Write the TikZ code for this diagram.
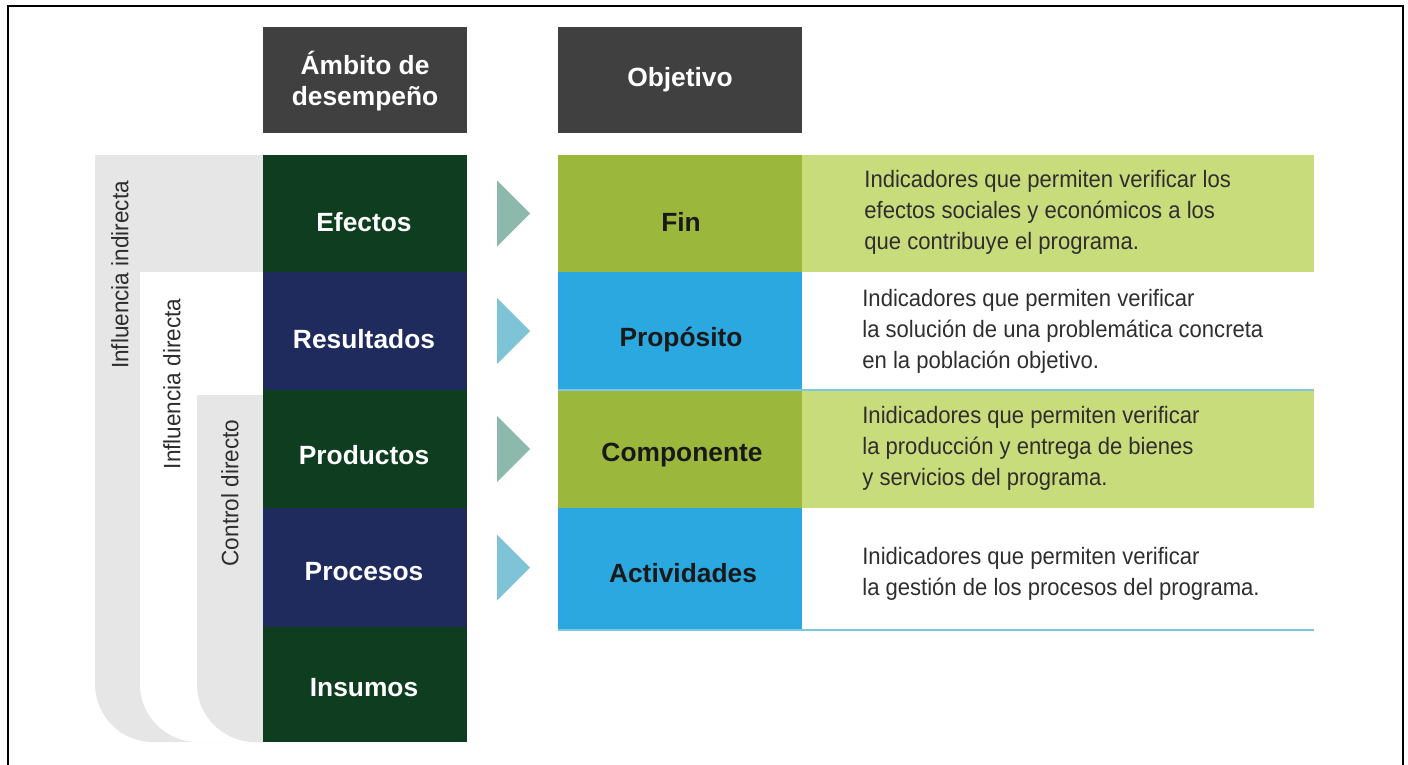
\documentclass[tikz,border=0pt]{standalone}
\usepackage{fontspec}
\setmainfont{Liberation Sans}
\newfontfamily\descfont[FakeStretch=0.93]{Liberation Sans}
\newfontfamily\rotfont[FakeStretch=0.95]{Liberation Sans}
\definecolor{hdrgray}{HTML}{404040}
\definecolor{dkgreen}{HTML}{0F3D1F}
\definecolor{navy}{HTML}{1F2B5C}
\definecolor{olive}{HTML}{9CB83C}
\definecolor{litegreen}{HTML}{C9DC7C}
\definecolor{skyblue}{HTML}{2BA8E0}
\definecolor{bggray}{HTML}{E6E6E6}
\definecolor{triA}{HTML}{8DB8AC}
\definecolor{triB}{HTML}{7FC3D6}
\definecolor{lineblue}{HTML}{7CC8E0}
\definecolor{desctext}{HTML}{2E2E2E}
\begin{document}
\begin{tikzpicture}[x=0.02cm,y=-0.02cm,
  hdrlbl/.style={text=white,font=\fontsize{15pt}{18pt}\selectfont\bfseries,align=center,inner sep=0},
  rowlbl/.style={text=white,font=\fontsize{15pt}{18pt}\selectfont\bfseries,inner sep=0},
  objlbl/.style={text=black!90,font=\fontsize{15pt}{18pt}\selectfont\bfseries,inner sep=0},
  desc/.style={text=desctext,font=\descfont\fontsize{13.5pt}{17.6pt}\selectfont,align=left,anchor=west,inner sep=0},
  rotlbl/.style={text=desctext,font=\rotfont\fontsize{13.5pt}{16pt}\selectfont,rotate=90,inner sep=0},
  bracket/.style={line width=0pt}]
\useasboundingbox (0,0) rectangle (1408,764);
% frame
\draw[black,line width=1.1pt] (8,780) -- (8,6) -- (1403,6) -- (1403,780);
% brackets
\fill[bggray,bracket] (263,155) -- (95,155) -- (95,684) arc[start angle=180,end angle=270,radius=1.16cm] -- (263,742) -- cycle;
\fill[white,bracket] (263,272) -- (140,272) -- (140,684) arc[start angle=180,end angle=270,radius=1.16cm] -- (263,742) -- cycle;
\fill[bggray,bracket] (263,395) -- (197,395) -- (197,684) arc[start angle=180,end angle=270,radius=1.16cm] -- (263,742) -- cycle;
\node[rotlbl] (indir) at (120,275) {Influencia indirecta};
\node[rotlbl] (dir) at (172,384) {Influencia directa};
\node[rotlbl] (ctrl) at (230,493) {Control directo};
% headers
\fill[hdrgray] (263,27) rectangle (467,133);
\fill[hdrgray] (558,27) rectangle (802,133);
\node[hdrlbl] (hamb) at (365,81) {Ámbito de\\desempeño};
\node[hdrlbl] (hobj) at (680,80) {Objetivo};
% left column
\fill[dkgreen] (263,155) rectangle (467,272);
\fill[navy] (263,272) rectangle (467,390);
\fill[dkgreen] (263,390) rectangle (467,508);
\fill[navy] (263,508) rectangle (467,627);
\fill[dkgreen] (263,627) rectangle (467,742);
\node[rowlbl] (efectos) at (364,222) {Efectos};
\node[rowlbl] (resultados) at (364,339) {Resultados};
\node[rowlbl] (productos) at (364,455) {Productos};
\node[rowlbl] (procesos) at (364,572) {Procesos};
\node[rowlbl] (insumos) at (364,688) {Insumos};
% triangles
\fill[triA] (497,180.5) -- (530,213.5) -- (497,246.5) -- cycle;
\fill[triB] (497,298) -- (530,331) -- (497,364) -- cycle;
\fill[triA] (497,416) -- (530,449) -- (497,482) -- cycle;
\fill[triB] (497,534.5) -- (530,567.5) -- (497,600.5) -- cycle;
% objective column
\fill[olive] (558,155) rectangle (802,272);
\fill[skyblue] (558,272) rectangle (802,390);
\fill[olive] (558,390) rectangle (802,508);
\fill[skyblue] (558,508) rectangle (802,630);
\fill[litegreen] (802,155) rectangle (1314,272);
\fill[litegreen] (802,391) rectangle (1314,508);
\draw[lineblue,line width=1.1pt] (558,390) -- (1314,390);
\draw[lineblue,line width=1.1pt] (558,630) -- (1314,630);
\node[objlbl] (fin) at (681,222) {Fin};
\node[objlbl] (proposito) at (681,340) {Propósito};
\node[objlbl] (componente) at (682,455) {Componente};
\node[objlbl] (actividades) at (683,573) {Actividades};
% descriptions
\node[desc] (dfin) at (864,212) {Indicadores que permiten verificar los\\efectos sociales y económicos a los\\que contribuye el programa.};
\node[desc] (dprop) at (862,331) {Indicadores que permiten verificar\\la solución de una problemática concreta\\en la población objetivo.};
\node[desc] (dcomp) at (862,448) {Inidicadores que permiten verificar\\la producción y entrega de bienes\\y servicios del programa.};
\node[desc] (dact) at (862,574) {Inidicadores que permiten verificar\\la gestión de los procesos del programa.};
\end{tikzpicture}
\end{document}
